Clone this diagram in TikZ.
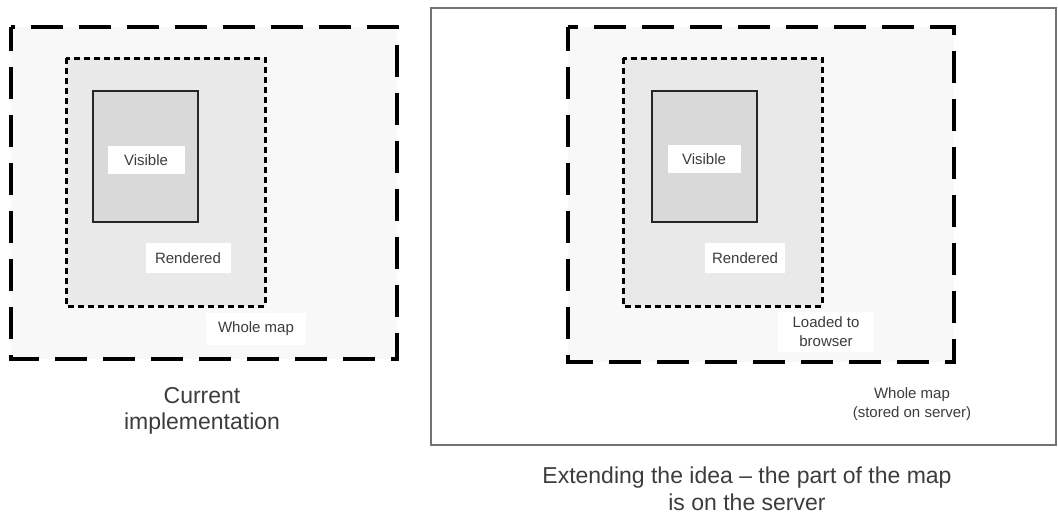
\documentclass[tikz,border=0pt]{standalone}
\usepackage{fontspec}
\setmainfont{Liberation Sans}
\usepackage{tikz}
\definecolor{mapfill}{HTML}{F8F8F8}
\definecolor{renderfill}{HTML}{E9E9E9}
\definecolor{visiblefill}{HTML}{D9D9D9}
\definecolor{inkgray}{HTML}{3C3C3C}

\begin{document}
\begin{tikzpicture}[x=1pt,y=-1pt,
  text=inkgray,
  wholemap/.style={draw=black,fill=mapfill,line width=3.2pt,dash pattern=on 32pt off 16pt,dash phase=8pt},
  rendered/.style={draw=black,fill=renderfill,line width=3pt,dash pattern=on 6pt off 4pt},
  visible/.style={draw=black!85,fill=visiblefill,line width=1.8pt},
  server/.style={draw=black!55,line width=1.1pt},
  tag/.style={fill=white,inner sep=0pt,align=center,font=\fontsize{15}{19}\selectfont},
  caption/.style={align=center,font=\fontsize{23}{26.5}\selectfont}
]
\path[use as bounding box] (0,0) rectangle (1058,515);

% Current implementation
\draw[wholemap] (11,27) rectangle (397,359);
\draw[rendered] (66,58) rectangle (265,306);
\draw[visible] (93,91) rectangle (198,222);
\node[tag,minimum width=77pt,minimum height=28pt] (visibleA) at (146,160) {Visible};
\node[tag,minimum width=85pt,minimum height=30pt] (renderedA) at (188,258) {Rendered};
\node[tag,minimum width=100pt,minimum height=32pt] (wholeA) at (256,329) {Whole map};
\node[caption] (captionA) at (202,411) {Current\\implementation};

% Extending the idea
\draw[server] (431,8) rectangle (1056,445);
\draw[wholemap] (568,27) rectangle (954,362);
\draw[rendered] (623,58) rectangle (822,306);
\draw[visible] (652,91) rectangle (757,222);
\node[tag,minimum width=73pt,minimum height=28pt] (visibleB) at (704,159) {Visible};
\node[tag,minimum width=80pt,minimum height=30pt] (renderedB) at (745,258) {Rendered};
\node[tag,minimum width=96pt,minimum height=40pt] (loadedB) at (826,332) {Loaded to\\browser};
\node[tag] (wholeB) at (912,404) {Whole map\\(stored on server)};
\node[caption] (captionB) at (747,489) {Extending the idea -- the part of the map\\is on the server};

\end{tikzpicture}
\end{document}
